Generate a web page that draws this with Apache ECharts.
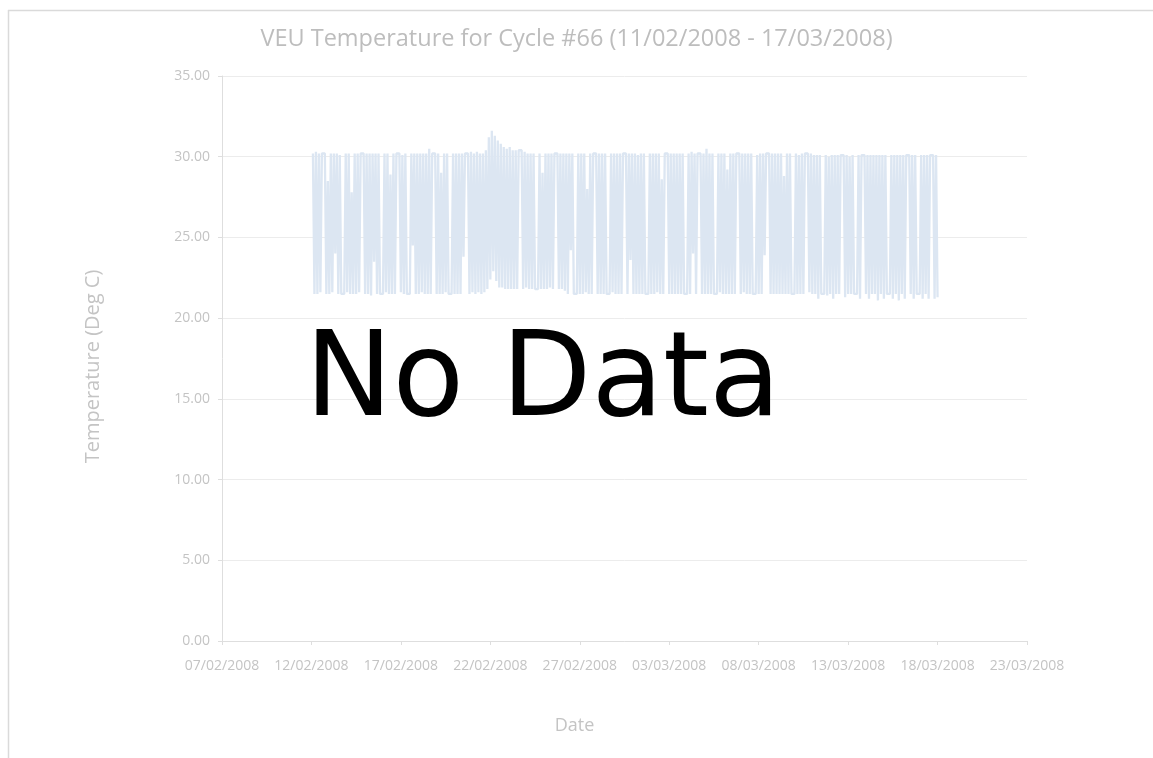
<!DOCTYPE html>
<html>
<head>
<meta charset="utf-8">
<title>VEU Temperature</title>
<script src="https://cdn.jsdelivr.net/npm/echarts@6/dist/echarts.min.js"></script>
<style>
    html, body { margin: 0; padding: 0; background: #fff; }
    #echarts { width: 1153px; height: 758px; }
</style>
</head>
<body>
<div id="echarts"></div>
<script>
var chartTitle = 'VEU Temperature for Cycle #66 (11/02/2008 - 17/03/2008)';
var xTickLabels = ['07/02/2008', '12/02/2008', '17/02/2008', '22/02/2008', '27/02/2008',
    '03/03/2008', '08/03/2008', '13/03/2008', '18/03/2008', '23/03/2008'];
var yTickLabels = ['0.00', '5.00', '10.00', '15.00', '20.00', '25.00', '30.00', '35.00'];

// readings every 2 hours, first one 12/02/2008 02:00 (days counted from 07/02/2008)
var startDay = 5 + 2 / 24;
var stepDays = 2 / 24;

// 12/02 - 29/02, one line per day
var febTemps = [
    30.2, 21.5, 30.3, 21.5, 30.2, 21.6, 30.2, 30.2, 30.2, 21.5, 28.5, 21.5,
    30.2, 21.6, 30.2, 24.0, 30.2, 21.5, 30.1, 21.5, 21.5, 21.5, 30.2, 21.6,
    30.2, 21.5, 27.8, 21.5, 30.2, 21.5, 30.2, 21.6, 30.2, 30.2, 30.2, 21.5,
    30.2, 21.5, 30.2, 21.4, 30.2, 23.5, 30.2, 21.5, 30.2, 21.5, 21.5, 21.5,
    30.2, 21.6, 30.2, 21.5, 28.9, 21.5, 30.2, 21.5, 30.2, 30.2, 30.2, 21.6,
    30.1, 21.5, 30.2, 21.5, 21.5, 21.5, 30.2, 24.5, 30.2, 21.5, 30.2, 21.5,
    30.2, 21.6, 30.2, 21.5, 30.2, 21.5, 30.5, 21.5, 30.2, 30.2, 30.2, 21.5,
    30.2, 21.5, 29.0, 21.5, 30.2, 21.6, 30.2, 21.5, 21.5, 21.5, 30.2, 21.5,
    30.2, 21.5, 30.2, 21.5, 30.2, 23.8, 30.2, 30.2, 30.2, 21.5, 30.3, 21.6,
    30.2, 21.5, 30.3, 21.6, 30.2, 21.5, 30.2, 21.6, 30.4, 21.8, 31.2, 22.4,
    31.6, 22.9, 31.3, 22.3, 31.0, 21.9, 30.8, 21.9, 30.6, 21.8, 30.5, 21.8,
    30.6, 21.8, 30.4, 21.8, 30.4, 21.8, 30.4, 30.4, 30.4, 21.8, 30.3, 21.9,
    30.2, 21.8, 30.2, 21.8, 30.2, 21.8, 21.8, 21.8, 30.2, 21.8, 29.0, 21.8,
    30.2, 21.8, 30.2, 21.9, 30.2, 21.8, 30.2, 30.2, 30.2, 21.8, 30.2, 21.8,
    30.2, 21.7, 30.2, 21.5, 30.2, 24.2, 30.2, 21.5, 21.5, 21.5, 30.2, 21.5,
    30.2, 21.5, 30.2, 21.6, 28.0, 21.5, 30.2, 21.5, 30.2, 30.2, 30.2, 21.5,
    30.2, 21.5, 30.2, 21.5, 30.2, 21.5, 21.5, 21.5, 30.2, 21.6, 30.2, 21.5,
    30.2, 21.5, 30.2, 21.5, 30.2, 30.2, 30.2, 21.5, 30.2, 23.6, 30.2, 21.5
];

// 01/03 - 17/03
var marTemps = [
    30.2, 21.5, 30.1, 21.5, 30.2, 21.5, 30.2, 21.5, 21.5, 21.5, 30.2, 21.5,
    30.2, 21.5, 30.2, 21.6, 30.2, 21.5, 28.6, 21.5, 30.2, 30.2, 30.2, 21.5,
    30.2, 21.5, 30.2, 21.5, 30.2, 21.5, 30.2, 21.5, 30.2, 21.5, 21.5, 21.5,
    30.2, 21.5, 30.3, 24.0, 30.2, 21.5, 30.2, 30.2, 30.2, 21.5, 30.2, 21.5,
    30.5, 21.5, 30.2, 21.5, 30.2, 21.5, 21.5, 21.5, 30.2, 21.6, 30.2, 21.5,
    30.2, 21.5, 29.2, 21.5, 30.2, 21.5, 30.2, 21.5, 30.2, 30.2, 30.2, 21.5,
    30.2, 21.6, 30.2, 21.5, 30.2, 21.5, 30.2, 21.5, 21.5, 21.5, 30.1, 21.5,
    30.2, 21.5, 30.2, 23.9, 30.2, 30.2, 30.2, 21.5, 30.2, 21.5, 30.2, 21.5,
    30.2, 21.5, 30.2, 21.5, 28.8, 21.5, 30.2, 21.5, 30.2, 21.5, 21.5, 21.5,
    30.2, 21.5, 30.1, 21.5, 30.2, 21.5, 30.2, 30.2, 30.2, 21.6, 30.2, 21.5,
    30.1, 21.5, 30.1, 21.2, 30.1, 21.5, 21.5, 21.5, 30.1, 21.4, 30.0, 21.5,
    30.1, 21.2, 30.1, 21.5, 30.1, 21.5, 30.1, 30.1, 30.1, 21.3, 30.1, 21.5,
    30.0, 21.5, 30.1, 21.5, 21.5, 21.5, 30.1, 21.2, 30.1, 30.1, 30.1, 21.5,
    30.1, 21.2, 30.1, 21.5, 30.1, 21.5, 30.1, 21.1, 30.1, 21.5, 30.1, 21.2,
    30.1, 21.5, 21.5, 21.5, 30.1, 21.2, 30.1, 21.5, 30.1, 21.1, 30.1, 21.5,
    30.1, 21.2, 30.1, 30.1, 30.1, 21.5, 30.1, 21.2, 30.1, 21.5, 21.5, 21.5,
    30.1, 21.2, 30.1, 21.5, 30.1, 21.2, 30.1, 30.1, 30.1, 21.2, 30.1, 21.3
];

function buildSeries(temps) {
    var data = [];
    for (var i = 0; i < temps.length; i++) {
        data.push([startDay + i * stepDays, temps[i]]);
    }
    return data;
}

function LoadChart() {
    var dom = document.getElementById("echarts");
    var myChart = echarts.init(dom, null, {renderer: 'canvas'});
    var labelColor = '#c4c4c4';
    var font = '"Open Sans", "DejaVu Sans", sans-serif';
    var option = {
        animation: false,
        backgroundColor: '#ffffff',
        title: {
            text: chartTitle,
            left: 'center',
            top: 22,
            textStyle: {
                color: '#bdbdbd',
                fontSize: 23.5,
                fontWeight: 'normal',
                fontFamily: font
            }
        },
        grid: {
            left: 222,
            right: 126,
            top: 76,
            bottom: 117
        },
        xAxis: {
            type: 'value',
            min: 0,
            max: 45,
            interval: 5,
            name: 'Date',
            nameLocation: 'middle',
            nameGap: 76,
            nameTextStyle: {color: labelColor, fontSize: 18, fontFamily: font, padding: [0, 100, 0, 0]},
            axisLine: {show: true, lineStyle: {color: '#dedede', width: 1}},
            axisTick: {show: true, length: 4, lineStyle: {color: '#dedede'}},
            splitLine: {show: false},
            axisLabel: {
                color: labelColor,
                fontSize: 14,
                fontFamily: font,
                margin: 18,
                formatter: function (value) {
                    return xTickLabels[Math.round(value / 5)] || '';
                }
            }
        },
        yAxis: {
            type: 'value',
            min: 0,
            max: 35,
            interval: 5,
            name: 'Temperature (Deg C)',
            nameLocation: 'middle',
            nameGap: 119,
            nameRotate: 90,
            nameTextStyle: {color: labelColor, fontSize: 20, fontFamily: font, padding: [0, 16, 0, 0]},
            axisLine: {show: true, lineStyle: {color: '#dedede', width: 1}},
            axisTick: {show: true, length: 4, lineStyle: {color: '#dedede'}},
            splitLine: {show: true, lineStyle: {color: '#ececec', width: 1}},
            axisLabel: {
                color: labelColor,
                fontSize: 14,
                fontFamily: font,
                margin: 12,
                formatter: function (value) {
                    return yTickLabels[Math.round(value / 5)] || '';
                }
            }
        },
        series: [{
            name: 'VEU Temperature',
            type: 'line',
            data: buildSeries(febTemps.concat(marTemps)),
            symbol: 'none',
            sampling: null,
            silent: true,
            lineStyle: {color: '#dce6f2', width: 2.3, join: 'bevel'}
        }],
        graphic: [{
            type: 'line',
            z: 100,
            shape: {x1: 8, y1: 10.5, x2: 1153, y2: 10.5},
            style: {stroke: '#dadada', lineWidth: 1.5}
        }, {
            type: 'line',
            z: 100,
            shape: {x1: 8.5, y1: 10, x2: 8.5, y2: 758},
            style: {stroke: '#dadada', lineWidth: 1.5}
        }, {
            type: 'text',
            z: 100,
            x: 305,
            y: 385,
            style: {
                text: 'No Data',
                fill: '#000000',
                font: '117px "DejaVu Sans"',
                textAlign: 'left',
                textVerticalAlign: 'middle'
            }
        }]
    };
    myChart.setOption(option, true);
}

LoadChart();
</script>
</body>
</html>
